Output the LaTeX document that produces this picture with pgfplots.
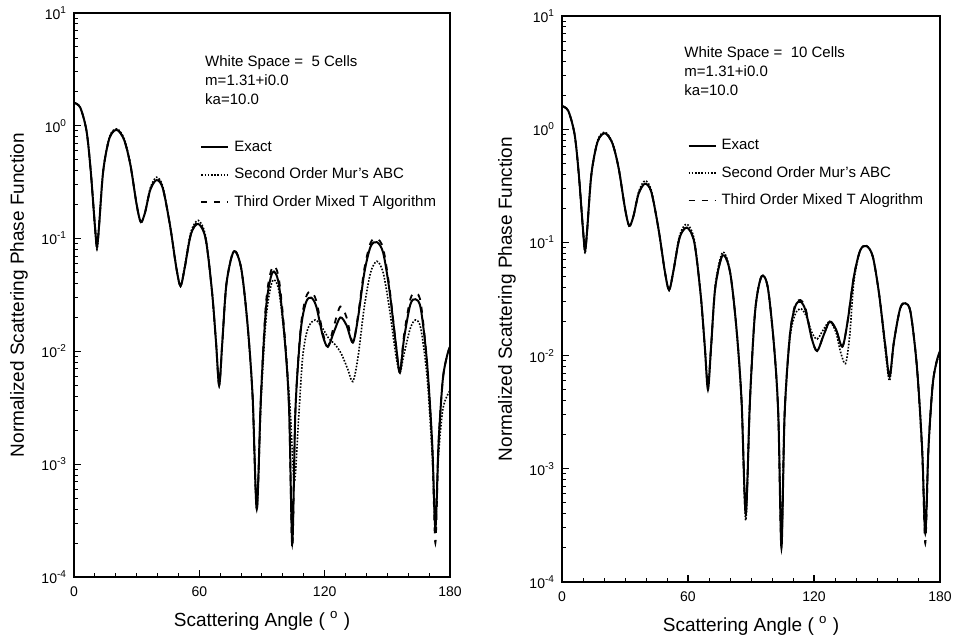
\documentclass[border=0pt]{standalone}
\usepackage{fontspec}
\setmainfont{Liberation Sans}
\usepackage{pgfplots}
\usepackage{pgfplotstable}
\pgfplotsset{compat=1.18}

% exact solution (same in both panels)
\pgfplotstableread{
x y
0 1.6
3 1.45
6 0.9
8 0.4
10 0.13
11 0.085
12 0.13
14 0.4
17 0.78
20.5 0.92
24 0.75
27 0.45
30 0.2
32 0.14
34 0.17
36.5 0.27
39.5 0.33
42.5 0.28
46 0.13
49 0.055
51 0.038
53 0.055
56 0.11
59.5 0.135
63 0.1
66 0.035
68 0.012
69.5 0.005
71 0.012
73 0.04
76.5 0.077
80 0.055
83 0.018
85.5 0.004
87.5 0.0004
89.5 0.004
92 0.025
95 0.05
98 0.04
101 0.012
103 0.003
104.5 0.0002
106 0.003
108.5 0.015
111 0.027
113.5 0.030
116 0.025
119 0.014
121.5 0.011
124.5 0.015
127.5 0.020
130.5 0.017
133.5 0.012
136 0.02
139 0.05
142 0.085
145 0.093
148 0.075
151 0.035
154 0.012
156 0.0065
158 0.013
161 0.026
163.5 0.029
166 0.024
169 0.008
171.5 0.0015
173 0.00027
174.5 0.0015
176.5 0.0055
178.5 0.009
180 0.011
}\exact

\pgfplotstableread{
x y
0 1.6
3 1.45
6 0.9
8 0.4
10 0.13
11 0.08
12 0.13
14 0.4
17 0.8
20.5 0.94
24 0.77
27 0.46
30 0.2
32 0.14
34 0.17
36.5 0.28
39.5 0.35
42.5 0.29
46 0.13
49 0.055
51 0.038
53 0.057
56 0.115
59.5 0.145
63 0.105
66 0.035
68 0.012
69.5 0.005
71 0.012
73 0.04
76.5 0.078
80 0.055
83 0.018
85.5 0.004
87.5 0.0004
89.5 0.0035
92 0.02
95 0.042
98 0.035
101 0.012
103.5 0.003
105.5 0.0007
107.5 0.0025
109.5 0.009
112 0.016
115.5 0.019
119 0.016
122 0.013
125 0.0115
128 0.0095
131 0.007
133.5 0.0054
136 0.009
139 0.025
142 0.05
145 0.063
148 0.05
151 0.024
154 0.0095
156 0.0065
158 0.0095
161 0.016
163.5 0.019
166 0.016
169 0.006
171.5 0.0012
173 0.0003
174.5 0.0012
176.5 0.003
178.5 0.004
180 0.0045
}\murA

\pgfplotstableread{
x y
0 1.6
3 1.45
6 0.9
8 0.4
10 0.13
11 0.085
12 0.13
14 0.4
17 0.78
20.5 0.93
24 0.75
27 0.45
30 0.2
32 0.14
34 0.17
36.5 0.27
39.5 0.34
42.5 0.28
46 0.13
49 0.055
51 0.038
53 0.055
56 0.11
59.5 0.14
63 0.1
66 0.035
68 0.012
69.5 0.005
71 0.012
73 0.04
76.5 0.078
80 0.055
83 0.018
85.5 0.004
87.5 0.0004
89.5 0.004
92 0.028
95 0.056
98 0.045
101 0.013
103 0.003
104.5 0.00018
106 0.003
108.5 0.016
111 0.03
113.5 0.034
116 0.028
119 0.015
121.5 0.011
124.5 0.017
127.5 0.025
130.5 0.02
133.5 0.012
136 0.021
139 0.054
142 0.092
145 0.10
148 0.082
151 0.037
154 0.012
156 0.0065
158 0.014
161 0.029
163.5 0.033
166 0.027
169 0.008
171.5 0.0014
173 0.0002
174.5 0.0015
176.5 0.0055
178.5 0.009
180 0.011
}\thirdA

\pgfplotstableread{
x y
0 1.6
3 1.45
6 0.9
8 0.4
10 0.13
11 0.08
12 0.13
14 0.4
17 0.8
20.5 0.94
24 0.76
27 0.45
30 0.2
32 0.14
34 0.17
36.5 0.28
39.5 0.35
42.5 0.29
46 0.13
49 0.055
51 0.038
53 0.056
56 0.115
59.5 0.145
63 0.105
66 0.035
68 0.012
69.5 0.0055
71 0.012
73 0.042
76.5 0.082
80 0.056
83 0.018
85.5 0.004
87.5 0.00035
89.5 0.004
92 0.025
95 0.05
98 0.04
101 0.012
103 0.003
104.5 0.00023
106 0.003
108.5 0.014
111 0.023
113.5 0.026
116 0.023
119 0.016
121.5 0.014
124.5 0.017
127.5 0.020
130.5 0.016
132.5 0.011
135 0.0085
137 0.015
139 0.045
142 0.085
145 0.093
148 0.075
151 0.035
154 0.011
156 0.006
158 0.013
161 0.026
163.5 0.029
166 0.024
169 0.008
171.5 0.0015
173 0.00027
174.5 0.0015
176.5 0.0055
178.5 0.009
180 0.01
}\murB

\pgfplotstableread{
x y
0 1.6
3 1.45
6 0.9
8 0.4
10 0.13
11 0.085
12 0.13
14 0.4
17 0.78
20.5 0.92
24 0.75
27 0.45
30 0.2
32 0.14
34 0.17
36.5 0.27
39.5 0.33
42.5 0.28
46 0.13
49 0.055
51 0.038
53 0.055
56 0.11
59.5 0.135
63 0.1
66 0.035
68 0.012
69.5 0.0055
71 0.012
73 0.04
76.5 0.077
80 0.055
83 0.018
85.5 0.004
87.5 0.0004
89.5 0.004
92 0.025
95 0.05
98 0.04
101 0.012
103 0.003
104.5 0.00022
106 0.003
108.5 0.015
111 0.028
113.5 0.031
116 0.026
119 0.014
121.5 0.011
124.5 0.015
127.5 0.020
130.5 0.017
133.5 0.012
136 0.02
139 0.05
142 0.085
145 0.093
148 0.075
151 0.035
154 0.012
156 0.0065
158 0.013
161 0.026
163.5 0.029
166 0.024
169 0.008
171.5 0.0014
173 0.00022
174.5 0.0015
176.5 0.0055
178.5 0.009
180 0.01
}\thirdB

\pgfplotsset{
  scale only axis,
  xmin=0, xmax=180, ymin=1e-4, ymax=10,
  xtick={0,60,120,180}, xticklabels={0,60,120,180},
  minor x tick num=5,
  ytick={1e-4,1e-3,1e-2,1e-1,1,10},
  yticklabels={10\textsuperscript{-4},10\textsuperscript{-3},10\textsuperscript{-2},10\textsuperscript{-1},10\textsuperscript{0},10\textsuperscript{1}},
  minor ytick={2e-4,3e-4,4e-4,5e-4,6e-4,7e-4,8e-4,9e-4,
               2e-3,3e-3,4e-3,5e-3,6e-3,7e-3,8e-3,9e-3,
               2e-2,3e-2,4e-2,5e-2,6e-2,7e-2,8e-2,9e-2,
               0.2,0.3,0.4,0.5,0.6,0.7,0.8,0.9,
               2,3,4,5,6,7,8,9},
  tick align=inside, tick pos=left,
  major tick length=3.5pt, minor tick length=2.2pt,
  every tick/.style={black, line width=0.6pt},
  every minor tick/.style={black, line width=0.5pt},
  axis line style={line width=0.9pt},
  ticklabel style={font=\fontsize{7}{8}\selectfont},
  xticklabel style={yshift=-1.5pt},
  label style={font=\fontsize{9.5}{11}\selectfont},
  xlabel style={yshift=-0.5pt},
  xlabel={Scattering Angle ( \textsuperscript{o} )},
  ylabel={Normalized Scattering Phase Function},
  legend cell align=left,
  legend image code/.code={\draw[#1] (0pt,0pt) -- (13.5pt,0pt);},
  legend style={draw=none, fill=none, anchor=north west, inner sep=0pt,
    row sep=1.75pt, font=\fontsize{7.5}{9}\selectfont,
    nodes={inner sep=2.5pt, text height=5.5pt, text depth=1.5pt}},
}
\tikzset{
  exactline/.style={black, line width=1pt, smooth},
  murline/.style={black, line width=0.8pt, dash pattern=on 0.8pt off 0.8pt, smooth},
  thirdline/.style={black, line width=0.9pt, dash pattern=on 3pt off 3.5pt, smooth},
}

\begin{document}
\begin{tikzpicture}
\useasboundingbox (-37pt,-30pt) rectangle (443pt,288.5pt);

\begin{semilogyaxis}[width=188pt, height=282pt,
  legend style={at={(0.335,0.784)}}]
\addplot[exactline] table {\exact};
\addlegendentry{Exact}
\addplot[murline] table {\murA};
\addlegendentry{Second Order Mur's ABC}
\addplot[thirdline] table {\thirdA};
\addlegendentry{Third Order Mixed T Algorithm}
\node[anchor=north west, align=left, inner sep=0pt,
  font=\fontsize{7.5}{9.5}\selectfont] at (rel axis cs:0.348,0.926)
  {White Space = \ 5 Cells\\m=1.31+i0.0\\ka=10.0};
\end{semilogyaxis}

\begin{semilogyaxis}[at={(244pt,-2.5pt)}, width=189pt, height=283pt,
  legend style={at={(0.331,0.793)}}]
\addplot[exactline] table {\exact};
\addlegendentry{Exact}
\addplot[murline] table {\murB};
\addlegendentry{Second Order Mur's ABC}
\addplot[thirdline] table {\thirdB};
\addlegendentry{Third Order Mixed T Alogrithm}
\node[anchor=north west, align=left, inner sep=0pt,
  font=\fontsize{7.5}{9.5}\selectfont] at (rel axis cs:0.323,0.946)
  {White Space = \ 10 Cells\\m=1.31+i0.0\\ka=10.0};
\end{semilogyaxis}
\end{tikzpicture}
\end{document}
